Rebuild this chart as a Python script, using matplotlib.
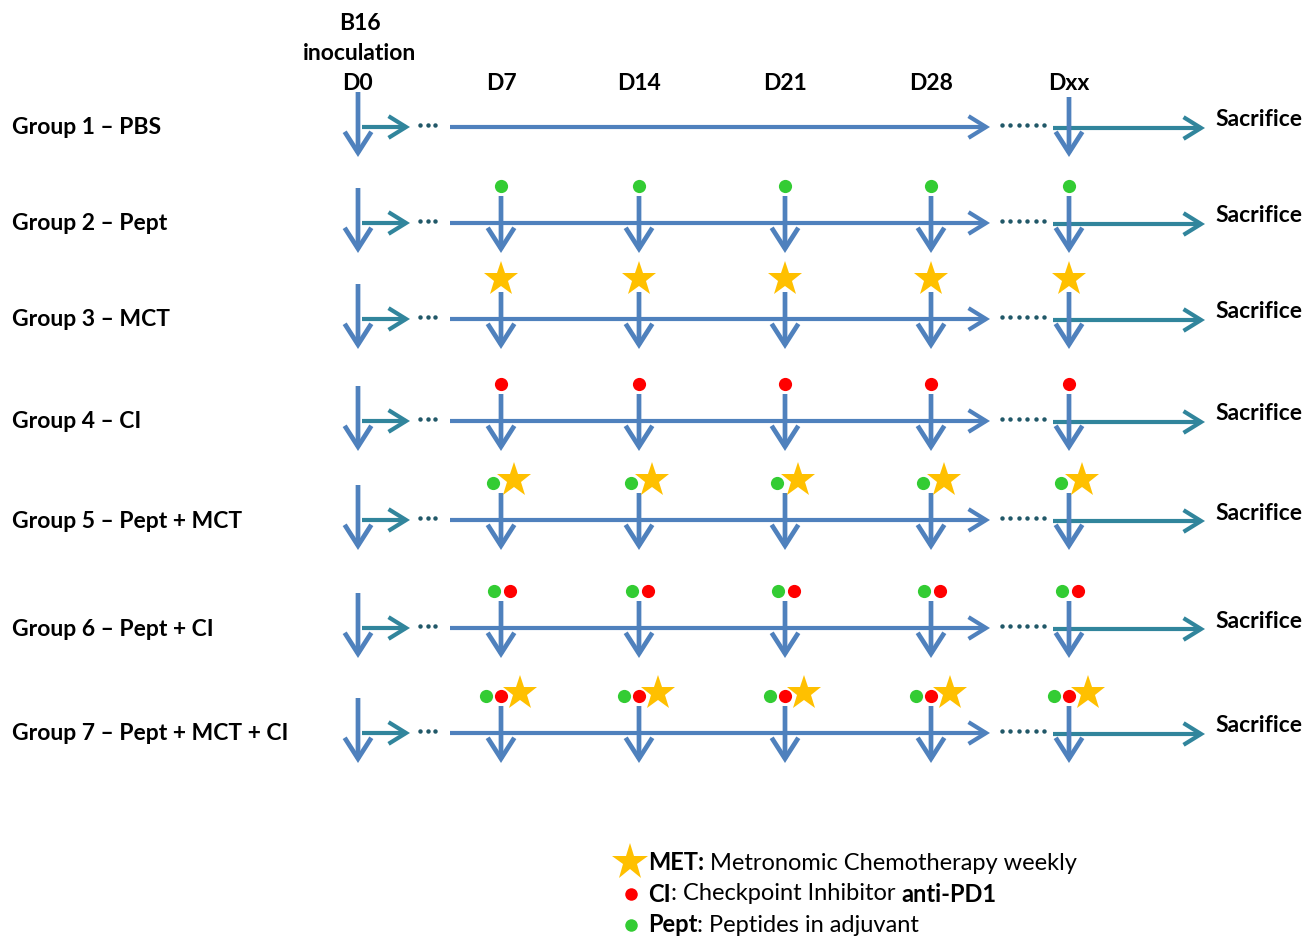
import matplotlib.pyplot as plt
from matplotlib.patches import FancyArrowPatch

plt.rcParams['font.family'] = ['Lato', 'DejaVu Sans']

days = ['D0', 'D7', 'D14', 'D21', 'D28', 'Dxx']
groups = ['Group 1 – PBS', 'Group 2 – Pept', 'Group 3 – MCT', 'Group 4 – CI',
          'Group 5 – Pept + MCT', 'Group 6 – Pept + CI', 'Group 7 – Pept + MCT + CI']
# treatments given at each weekly time point (D7 .. Dxx)
treatments = [[], ['Pept'], ['MET'], ['CI'], ['Pept', 'MET'], ['Pept', 'CI'],
              ['Pept', 'CI', 'MET']]
legend_items = [('MET', 'MET:', ' Metronomic Chemotherapy weekly', ''),
                ('CI', 'CI', ': Checkpoint Inhibitor ', 'anti-PD1'),
                ('Pept', 'Pept', ': Peptides in adjuvant', '')]

BLUE = '#4F81BD'
TEAL = '#31859C'
DARK = '#215868'
colors = {'Pept': '#33CC33', 'CI': '#FF0000', 'MET': '#FFC000'}

# layout (pixels)
col_x = [358, 501, 639, 785, 931, 1069]
row_y = [127, 223, 319, 421, 520, 628, 733]
offsets = {('Pept',): [0], ('MET',): [0], ('CI',): [0],
           ('Pept', 'MET'): [-8, 13], ('Pept', 'CI'): [-7, 9],
           ('Pept', 'CI', 'MET'): [-15, 0, 19]}
FS = 16.5

fig = plt.figure(figsize=(13.04, 9.38), dpi=100)
ax = fig.add_axes([0, 0, 1, 1])
ax.set_xlim(0, 1304)
ax.set_ylim(938, 0)
ax.axis('off')


def arrow(x0, y0, x1, y1, color, lw=3.0, hl=0.4, hw=0.3):
    p = FancyArrowPatch((x0, y0), (x1, y1),
                        arrowstyle='->,head_length=%s,head_width=%s' % (hl, hw),
                        mutation_scale=30, color=color, lw=lw,
                        shrinkA=0, shrinkB=0, capstyle='butt', joinstyle='miter')
    ax.add_patch(p)


def dots(x0, x1, y, n):
    step = (x1 - x0) / (n - 1)
    ax.plot([x0 + i * step for i in range(n)], [y] * n, 'o', color=DARK,
            markersize=3.2, markeredgewidth=0)


# header
ax.text(col_x[0] + 2, 23, 'B16', ha='center', va='center', fontsize=FS, weight='bold')
ax.text(col_x[0] + 2, 53, 'inoculation', ha='center', va='center', fontsize=FS, weight='bold')
for x, d in zip(col_x, days):
    ax.text(x, 83, d, ha='center', va='center', fontsize=FS, weight='bold')

for gi, (label, y) in enumerate(zip(groups, row_y)):
    ax.text(12, y + 1, label, ha='left', va='center', fontsize=FS, weight='bold')
    # D0 inoculation
    arrow(col_x[0], y - 35, col_x[0], y + 30, BLUE, lw=3.4, hl=0.5, hw=0.32)
    arrow(col_x[0] + 4, y, 410, y, TEAL, lw=3.0, hl=0.42, hw=0.26)
    dots(420, 435, y - 2, 3)
    # main timeline
    arrow(450, y, 990, y, BLUE, lw=3.0, hl=0.42, hw=0.26)
    dots(1002, 1044, y - 2, 6)
    arrow(1053, y + 1, 1205, y + 1, TEAL, lw=3.0, hl=0.42, hw=0.26)
    ax.text(1215, y - 7, 'Sacrifice', ha='left', va='center', fontsize=FS, weight='bold')
    tr = treatments[gi]
    if not tr:
        arrow(col_x[-1], y - 30, col_x[-1], y + 30, BLUE, lw=3.4, hl=0.5, hw=0.32)
        continue
    for x in col_x[1:]:
        arrow(x, y - 27, x, y + 30, BLUE, lw=3.4, hl=0.5, hw=0.32)
        for t, dx in zip(tr, offsets[tuple(tr)]):
            if t == 'MET':
                ax.plot(x + dx, y - 40, '*', color=colors[t], markersize=26,
                        markeredgewidth=0)
            else:
                ax.plot(x + dx, y - 37, 'o', color=colors[t], markersize=9.5,
                        markeredgewidth=0)

# legend
for i, (key, head, body, tail) in enumerate(legend_items):
    ly = 863 + 31 * i
    if key == 'MET':
        ax.plot(630, ly - 1, '*', color=colors[key], markersize=28, markeredgewidth=0)
    else:
        ax.plot(631, ly, 'o', color=colors[key], markersize=9, markeredgewidth=0)
    t = ax.text(648, ly, head, ha='left', va='center', fontsize=17, weight='bold')
    t = ax.annotate(body, xycoords=t, xy=(1, 0.5), va='center', fontsize=17)
    if tail:
        ax.annotate(tail, xycoords=t, xy=(1, 0.5), va='center', fontsize=17, weight='bold')

fig.savefig('out.png', dpi=100)
